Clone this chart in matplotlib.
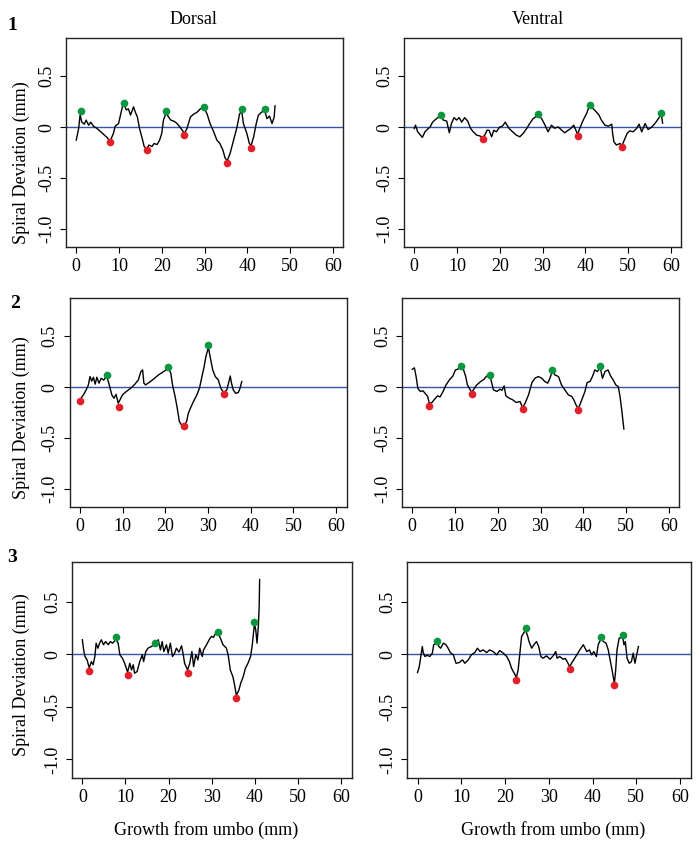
import numpy as np
from matplotlib import pyplot as plt

plt.rcParams['font.family'] = ['Liberation Serif', 'DejaVu Serif']

# ---- data (x = growth from umbo in mm, y = deviation in mm) ----

# row 1, dorsal
d1_x = [0, 0.55, 0.9, 1.3, 1.9, 2.3, 2.9, 3.4, 4.0, 4.8, 5.6, 6.4, 7.2, 7.9, 8.7, 9.1, 9.9, 10.4, 10.9, 11.1,
        11.7, 12.2, 12.7, 13.4, 13.8, 14.3, 14.8, 15.3, 15.9, 16.5, 17.0, 17.7, 18.2, 18.9, 19.5, 20.0, 20.4, 21.0,
        21.6, 22.1, 22.8, 23.5, 24.3, 24.9, 25.3, 25.9, 26.7, 27.5, 28.2, 29.0, 29.9, 30.6, 31.3, 32.1, 32.9, 33.6,
        34.3, 34.8, 35.3, 36.0, 36.8, 37.6, 38.2, 38.7, 39.1, 39.9, 40.5, 40.9, 41.5, 42.1, 42.6, 43.4, 44.1, 44.6,
        45.2, 45.8, 46.3, 46.5]
d1_y = [-0.127, -0.013, 0.12, 0.05, 0.03, 0.07, 0.02, 0.05, 0.01, -0.01, -0.04, -0.07, -0.10, -0.14, -0.06, 0.01,
        0.036, 0.13, 0.22, 0.23, 0.17, 0.18, 0.12, 0.20, 0.15, 0.10, -0.013, -0.09, -0.19, -0.21, -0.175, -0.19, -0.16,
        -0.17, -0.127, -0.06, 0.07, 0.14, 0.10, 0.07, 0.06, 0.04, 0.0, -0.036, -0.06, -0.013, 0.10, 0.13, 0.145, 0.18,
        0.19, 0.13, 0.036, -0.04, -0.127, -0.16, -0.224, -0.30, -0.33, -0.256, -0.127, 0.0, 0.13, 0.16, 0.036, -0.06,
        -0.16, -0.18, -0.094, 0.036, 0.117, 0.15, 0.16, 0.084, 0.11, 0.036, 0.10, 0.21]
d1_peak_x = [1.0, 11.1, 21.0, 29.9, 38.7, 44.1]
d1_peak_y = [0.16, 0.24, 0.155, 0.20, 0.175, 0.18]
d1_trough_x = [7.95, 16.5, 25.3, 35.3, 40.9]
d1_trough_y = [-0.15, -0.22, -0.075, -0.35, -0.20]

# row 1, ventral
v1_x = [0, 0.3, 0.8, 1.3, 1.9, 2.5, 3.1, 3.7, 4.3, 4.8, 5.4, 6.2, 6.8, 7.6, 8.2, 8.7, 9.3, 9.9, 10.5, 11.1, 11.8,
        12.5, 13.2, 13.8, 14.6, 15.3, 16.0, 16.5, 17.0, 17.5, 18.1, 18.6, 19.2, 20.0, 20.6, 21.3, 21.7, 22.2, 23.0,
        23.9, 24.7, 25.5, 26.3, 27.0, 27.8, 29.0, 29.8, 30.6, 31.3, 32.1, 32.8, 33.7, 34.5, 35.2, 36.0, 36.6, 37.3,
        37.8, 38.2, 38.7, 39.5, 40.3, 40.8, 41.2, 41.9, 42.6, 43.2, 43.8, 44.6, 45.4, 46.2, 46.4, 46.7, 47.3, 48.1,
        48.6, 49.3, 49.8, 50.4, 51.2, 52.0, 52.6, 53.2, 54.0, 54.7, 55.5, 56.3, 57.1, 57.8, 58.1]
v1_y = [-0.013, 0.02, -0.045, -0.07, -0.10, -0.045, -0.02, 0.003, 0.05, 0.07, 0.09, 0.11, 0.07, 0.06, -0.055, 0.036,
        0.094, 0.07, 0.094, 0.05, 0.094, 0.06, -0.013, -0.045, -0.078, -0.085, -0.10, -0.078, -0.03, -0.03, -0.094,
        -0.03, -0.045, 0.003, 0.01, 0.05, 0.02, -0.013, -0.045, -0.078, -0.094, -0.06, -0.013, 0.036, 0.084, 0.12,
        0.084, 0.02, -0.045, 0.02, -0.01, 0.003, -0.03, -0.055, -0.03, -0.013, 0.02, -0.03, -0.07, -0.013, 0.068,
        0.133, 0.19, 0.21, 0.18, 0.15, 0.12, 0.068, 0.02, 0.01, 0.03, -0.06, -0.143, -0.175, -0.16, -0.18, -0.11,
        -0.06, -0.036, -0.045, -0.013, 0.03, -0.045, 0.036, -0.023, 0.0, 0.036, 0.084, 0.13, 0.04]
v1_peak_x = [6.2, 29.0, 41.2, 57.8]
v1_peak_y = [0.12, 0.127, 0.218, 0.143]
v1_trough_x = [16.0, 38.2, 48.6]
v1_trough_y = [-0.114, -0.084, -0.19]

# row 2, dorsal
d2_x = [0.1, 0.86, 1.5, 2.0, 2.4, 2.8, 3.2, 3.6, 4.0, 4.5, 5.0, 5.6, 6.3, 6.9, 7.5, 8.0, 8.5, 9.0, 9.6, 10.0, 10.6,
        11.4, 12.2, 12.9, 13.7, 14.3, 14.7, 15.0, 15.4, 16.2, 17.2, 18.4, 19.6, 20.2, 20.7, 21.3, 21.7, 22.3, 22.8,
        23.3, 23.8, 24.5, 25.0, 25.4, 25.9, 26.6, 27.4, 28.0, 28.5, 29.1, 29.5, 30.1, 30.5, 31.1, 31.7, 32.4, 33.0,
        33.7, 34.4, 34.9, 35.2, 35.5, 35.9, 36.5, 37.1, 37.5, 37.9]
d2_y = [-0.12, -0.075, -0.026, 0.02, 0.105, 0.06, 0.098, 0.03, 0.098, 0.04, 0.088, 0.07, 0.11, 0.023, -0.075, -0.108,
        -0.07, -0.157, -0.108, -0.075, -0.052, -0.026, 0.0, 0.03, 0.072, 0.154, 0.17, 0.04, 0.023, 0.046, 0.078, 0.12,
        0.154, 0.17, 0.19, 0.137, 0.023, -0.09, -0.205, -0.337, -0.37, -0.37, -0.337, -0.255, -0.205, -0.14, -0.075,
        -0.01, 0.088, 0.203, 0.3, 0.39, 0.3, 0.17, 0.105, 0.072, -0.01, -0.055, -0.026, 0.056, 0.11, 0.04, -0.026,
        -0.06, -0.052, -0.01, 0.056]
d2_peak_x = [6.3, 20.7, 30.1]
d2_peak_y = [0.12, 0.203, 0.41]
d2_trough_x = [0.1, 9.1, 24.5, 33.7]
d2_trough_y = [-0.137, -0.193, -0.385, -0.065]

# row 2, ventral
v2_x = [0, 0.5, 0.9, 1.3, 1.9, 2.5, 3.0, 3.6, 4.0, 4.6, 5.1, 5.9, 6.5, 7.2, 7.9, 8.7, 9.5, 10.1, 10.6, 11.3, 12.0,
        12.5, 12.9, 13.9, 14.3, 15.1, 16.0, 16.8, 17.4, 18.2, 18.6, 19.0, 19.8, 20.5, 21.0, 21.5, 21.9, 22.7, 23.5,
        24.3, 25.2, 25.8, 26.4, 27.2, 28.0, 28.7, 29.5, 30.3, 31.0, 31.7, 32.2, 32.8, 33.4, 34.2, 34.9, 35.7, 36.5,
        37.3, 37.8, 38.3, 38.8, 39.2, 39.8, 40.4, 40.9, 41.6, 42.2, 42.7, 43.3, 44.0, 44.5, 45.1, 45.8, 46.4, 47.0,
        47.6, 48.2, 48.6, 49.0, 49.5]
v2_y = [0.176, 0.19, 0.105, -0.01, -0.042, -0.035, -0.06, -0.09, -0.16, -0.15, -0.124, -0.085, -0.095, -0.042,
        0.023, 0.072, 0.11, 0.17, 0.176, 0.2, 0.17, 0.105, 0.023, -0.05, -0.026, 0.023, 0.056, 0.078, 0.11, 0.11,
        0.04, -0.026, -0.042, -0.02, -0.03, 0.013, -0.085, -0.108, -0.124, -0.15, -0.14, -0.2, -0.157, -0.075, 0.046,
        0.088, 0.105, 0.088, 0.056, 0.04, 0.088, 0.16, 0.12, 0.105, 0.023, -0.026, -0.075, -0.09, -0.124, -0.173,
        -0.21, -0.173, -0.108, -0.042, 0.046, 0.056, 0.11, 0.17, 0.154, 0.19, 0.088, 0.154, 0.17, 0.11, 0.072, 0.023,
        0.006, -0.09, -0.222, -0.41]
v2_peak_x = [11.3, 18.2, 32.8, 44.0]
v2_peak_y = [0.212, 0.12, 0.17, 0.206]
v2_trough_x = [4.0, 13.9, 25.8, 38.8]
v2_trough_y = [-0.183, -0.062, -0.212, -0.225]

# row 3, dorsal
d3_x = [0, 0.3, 0.6, 1.1, 1.6, 2.1, 2.5, 2.9, 3.2, 3.6, 4.0, 4.4, 4.9, 5.4, 6.0, 6.5, 7.0, 7.8, 8.3, 8.7, 9.3, 9.8,
        10.5, 11.0, 11.4, 11.8, 12.1, 12.7, 13.3, 13.9, 14.2, 14.7, 15.2, 16.0, 16.9, 17.6, 18.1, 18.5, 18.9, 19.5,
        19.9, 20.4, 20.9, 21.4, 21.8, 22.4, 23.0, 23.4, 23.7, 24.4, 24.9, 25.4, 25.8, 26.3, 26.8, 27.2, 27.8, 28.1,
        28.8, 29.4, 29.9, 30.4, 30.9, 31.5, 32.0, 32.6, 33.4, 33.8, 34.3, 34.9, 35.3, 35.7, 36.3, 36.7, 37.3, 37.8,
        38.4, 39.0, 39.4, 39.9, 40.2, 40.5, 40.8, 41.0, 41.1]
d3_y = [0.137, 0.04, -0.022, -0.054, -0.13, -0.07, -0.1, -0.022, 0.105, 0.057, 0.105, 0.137, 0.09, 0.12, 0.09, 0.12,
        0.105, 0.14, 0.105, -0.006, -0.038, -0.086, -0.17, -0.086, -0.15, -0.1, -0.18, -0.165, -0.07, -0.006, -0.07,
        0.025, 0.057, 0.073, 0.1, 0.137, 0.041, 0.12, 0.025, 0.09, 0.01, 0.105, -0.022, 0.01, 0.057, 0.02, 0.08,
        -0.006, -0.086, -0.15, -0.086, 0.025, -0.118, -0.006, -0.054, 0.057, -0.022, 0.041, 0.09, 0.137, 0.169, 0.16,
        0.2, 0.2, 0.153, 0.09, 0.057, -0.006, -0.15, -0.213, -0.293, -0.39, -0.34, -0.277, -0.213, -0.134, -0.086,
        -0.022, 0.09, 0.29, 0.232, 0.105, 0.264, 0.455, 0.71]
d3_peak_x = [7.8, 16.9, 31.5, 39.9]
d3_peak_y = [0.16, 0.105, 0.213, 0.31]
d3_trough_x = [1.6, 10.5, 24.4, 35.7]
d3_trough_y = [-0.16, -0.194, -0.175, -0.417]

# row 3, ventral
v3_x = [0, 0.4, 0.7, 1.1, 1.3, 1.7, 2.2, 2.8, 3.4, 3.7, 4.5, 4.9, 5.3, 5.9, 6.5, 7.0, 7.5, 8.2, 8.8, 9.5, 10.3,
        10.8, 11.6, 12.3, 13.1, 13.7, 14.3, 15.0, 15.8, 16.5, 17.3, 18.1, 18.8, 19.6, 20.4, 21.0, 21.5, 22.1, 22.6,
        23.0, 23.4, 23.8, 24.7, 25.2, 25.5, 26.1, 26.6, 27.2, 27.7, 28.2, 28.7, 29.5, 30.3, 31.0, 31.6, 31.9, 32.5,
        33.3, 33.8, 34.2, 34.8, 35.2, 35.7, 36.4, 37.1, 37.9, 38.7, 39.3, 39.8, 40.3, 40.9, 41.3, 42.0, 42.5, 43.1,
        43.6, 44.1, 44.6, 45.0, 45.3, 45.6, 46.1, 46.9, 47.2, 47.5, 47.9, 48.4, 48.9, 49.3, 49.7, 50.1, 50.5]
v3_y = [-0.175, -0.118, -0.038, 0.073, 0.016, -0.022, -0.01, -0.022, 0.01, 0.09, 0.11, 0.073, 0.057, 0.105, 0.09,
        0.057, 0.016, -0.006, -0.086, -0.08, -0.054, -0.086, -0.054, -0.006, 0.016, 0.057, 0.025, 0.041, 0.016, 0.041,
        0.025, -0.006, 0.035, 0.01, -0.022, -0.07, -0.134, -0.18, -0.22, -0.15, 0.01, 0.169, 0.23, 0.169, 0.12, 0.057,
        0.09, 0.12, 0.073, -0.022, -0.038, -0.016, -0.048, -0.016, 0.025, -0.038, -0.022, -0.048, -0.04, -0.07, -0.12,
        -0.086, -0.054, -0.006, 0.041, 0.09, 0.025, 0.041, -0.006, 0.025, -0.022, 0.09, 0.15, 0.12, 0.105, 0.041,
        -0.07, -0.18, -0.28, -0.15, 0.041, 0.153, 0.16, 0.09, 0.12, -0.038, -0.086, -0.07, 0.01, -0.086, -0.006, 0.073]
v3_peak_x = [4.5, 24.7, 42.0, 46.9]
v3_peak_y = [0.127, 0.248, 0.166, 0.178]
v3_trough_x = [22.6, 34.8, 45.0]
v3_trough_y = [-0.242, -0.14, -0.296]

x_ticks = [0, 10, 20, 30, 40, 50, 60]
y_ticks = [-1.0, -0.5, 0, 0.5]
y_tick_labels = ['-1.0', '-0.5', '0', '0.5']

GREEN = '#0b9640'
RED = '#e2202a'
BLUE = '#3554a5'

W, H = 700, 850
fig = plt.figure(figsize=(7, 8.5), dpi=100)


def box(l, t, r, b):
    # pixel box (from top-left) -> figure fraction rect
    return [l / W, 1 - b / H, (r - l) / W, (b - t) / H]


def panel(rect, x, y, px, py, tx, ty):
    ax = fig.add_axes(box(*rect))
    ax.axhline(0, color=BLUE, lw=1.0, zorder=1)
    ax.plot(x, y, color='black', lw=1.0, zorder=2)
    ax.plot(px, py, 'o', color=GREEN, ms=5.5, mec='none', zorder=3)
    ax.plot(tx, ty, 'o', color=RED, ms=5.5, mec='none', zorder=3)
    ax.set_xlim(-2.4, 62.4)      # R style 4% padding
    ax.set_ylim(-1.176, 0.876)
    ax.set_xticks(x_ticks)
    ax.set_yticks(y_ticks)
    ax.set_yticklabels(y_tick_labels, rotation=90, va='center')
    ax.tick_params(direction='out', length=4, width=0.8, labelsize=13, pad=4)
    for s in ax.spines.values():
        s.set_linewidth(1.0)
        s.set_color('#222222')
    return ax


panel((66, 38, 343, 247), d1_x, d1_y, d1_peak_x, d1_peak_y, d1_trough_x, d1_trough_y)
panel((404, 38, 681, 247), v1_x, v1_y, v1_peak_x, v1_peak_y, v1_trough_x, v1_trough_y)
panel((69.5, 298, 346.5, 507), d2_x, d2_y, d2_peak_x, d2_peak_y, d2_trough_x, d2_trough_y)
panel((402, 298, 679, 507), v2_x, v2_y, v2_peak_x, v2_peak_y, v2_trough_x, v2_trough_y)
panel((72, 562, 351.5, 778), d3_x, d3_y, d3_peak_x, d3_peak_y, d3_trough_x, d3_trough_y)
panel((407, 562, 690.5, 778), v3_x, v3_y, v3_peak_x, v3_peak_y, v3_trough_x, v3_trough_y)


def ftext(px, py, s, **kw):
    fig.text(px / W, 1 - py / H, s, ha='center', va='center', **kw)


ftext(193, 19, 'Dorsal', fontsize=13)
ftext(538, 19, 'Ventral', fontsize=13)

ftext(12, 26, '1', fontsize=14, fontweight='bold')
ftext(15, 304, '2', fontsize=14, fontweight='bold')
ftext(12, 557, '3', fontsize=14, fontweight='bold')

for yc in [163, 418, 675]:
    ftext(21, yc, 'Spiral Deviation (mm)', fontsize=13, rotation=90)

ftext(206, 830, 'Growth from umbo (mm)', fontsize=13)
ftext(553, 830, 'Growth from umbo (mm)', fontsize=13)

fig.savefig('out.png', dpi=100)
